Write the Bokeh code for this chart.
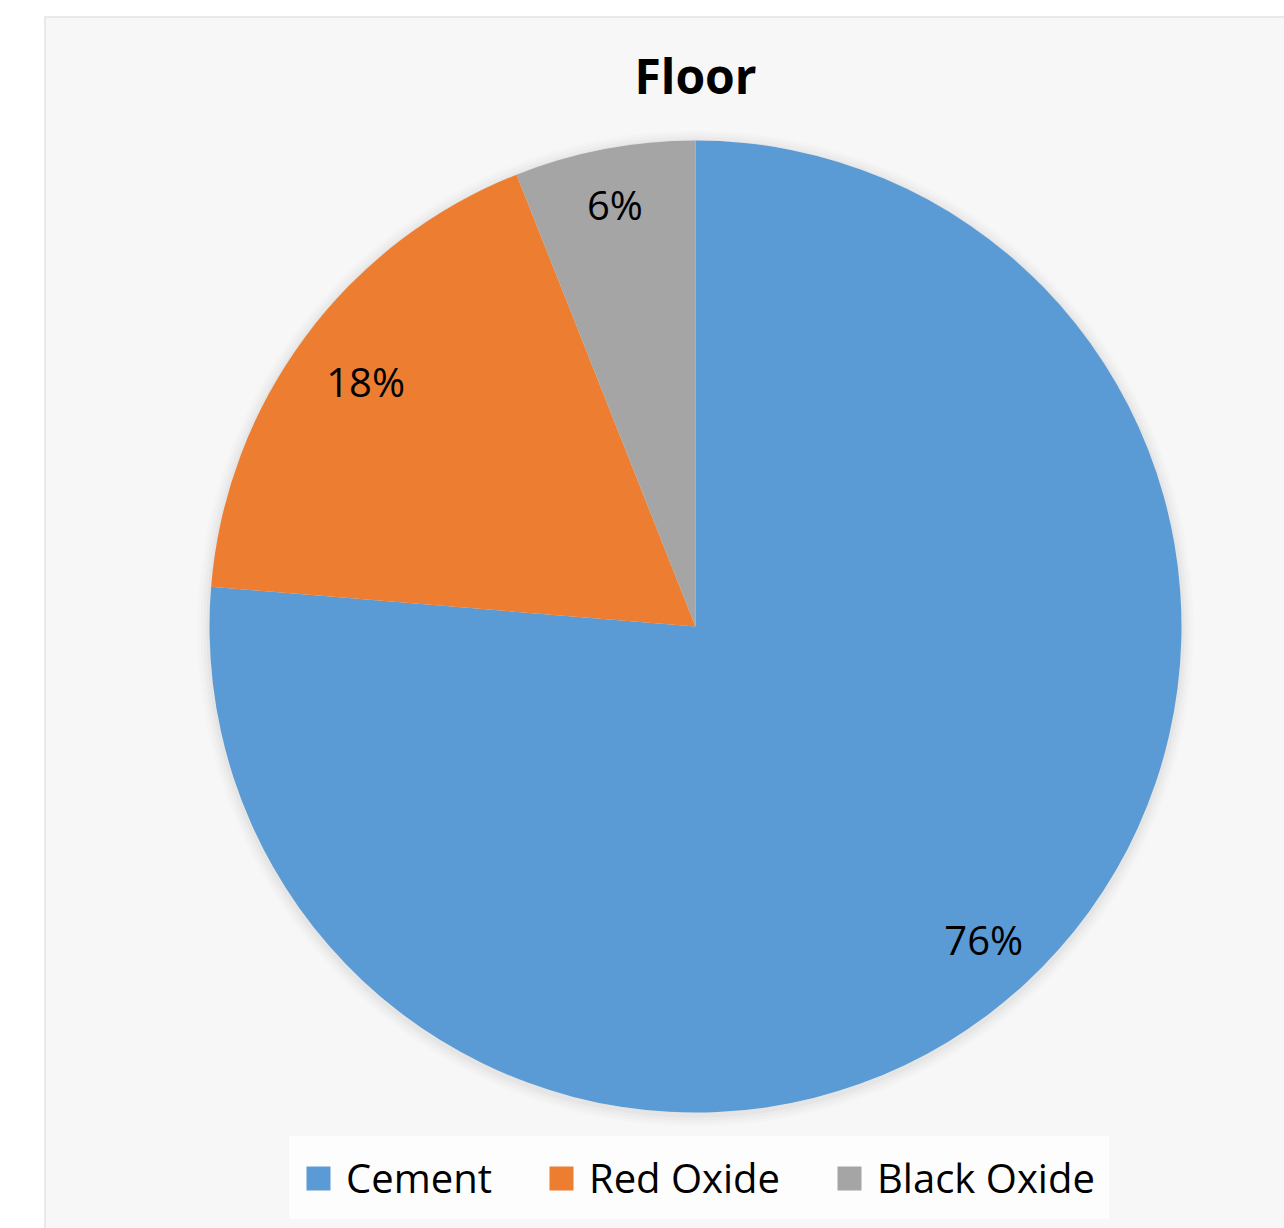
import math
from bokeh.plotting import figure
from bokeh.models import ColumnDataSource, Legend, LegendItem, Label, Span
from bokeh.core.properties import value
from bokeh.embed import file_html
from bokeh.resources import INLINE

# ---- data ----
categories = ["Cement", "Red Oxide", "Black Oxide"]
shares = [76.3, 17.7, 6.0]
colors = ["#5B9BD5", "#ED7D31", "#A5A5A5"]
title_text = "Floor"

# ---- geometry (layout) ----
W, H = 1284, 1228
left_border, top_border = 44, 16
FW, FH = W - left_border, H - top_border
cx, cy = 651, FH - 610
R = 486
label_radius = [0.875, 0.845, 0.885]

total = float(sum(shares))
starts, ends, lx, ly, labels = [], [], [], [], []
cum = 0.0
for s, f in zip(shares, label_radius):
    a0 = math.pi / 2 - 2 * math.pi * cum / total
    cum += s
    a1 = math.pi / 2 - 2 * math.pi * cum / total
    starts.append(a0)
    ends.append(a1)
    mid = (a0 + a1) / 2
    lx.append(cx + f * R * math.cos(mid))
    ly.append(cy + f * R * math.sin(mid))
    labels.append(f"{round(100 * s / total)}%")

src = ColumnDataSource(dict(cat=categories, start=starts, end=ends, color=colors,
                            lx=lx, ly=ly, lab=labels))

p = figure(width=W, height=H, x_range=(0, FW), y_range=(0, FH),
           output_backend="svg", toolbar_location=None,
           min_border_left=left_border, min_border_top=top_border,
           min_border_right=0, min_border_bottom=0)
p.border_fill_color = "white"
p.background_fill_color = "#f7f7f7"
p.outline_line_color = None
p.axis.visible = False
p.grid.visible = False

# frame edges only on the left and top (chart area runs off the page)
p.add_layout(Span(location=0, dimension="height", line_color="#d9d9d9", line_width=2))
p.add_layout(Span(location=FH, dimension="width", line_color="#d9d9d9", line_width=2))

# soft shadow
for k, a in [(12, 0.025), (9, 0.03), (6, 0.04), (3, 0.05)]:
    p.circle(x=[cx], y=[cy - 2], radius=R + k, fill_color="#7f7f7f",
             fill_alpha=a, line_alpha=0)

wr = p.wedge(x=cx, y=cy, radius=R, start_angle="start", end_angle="end",
             direction="clock", fill_color="color", line_alpha=0, source=src)

p.text(x="lx", y="ly", text="lab", source=src, text_font=value("Open Sans"),
       text_font_size="40px", text_color="black", text_align="center",
       text_baseline="middle")

p.add_layout(Label(x=cx, y=FH - 59, y_units="data", text=title_text,
                   text_font="Open Sans", text_font_style="bold",
                   text_font_size="48px", text_align="center",
                   text_baseline="middle", text_color="black"))

items = [LegendItem(label=c, renderers=[wr], index=i) for i, c in enumerate(categories)]
legend = Legend(items=items, orientation="horizontal", location=(245, 9),
                label_text_font="Open Sans", label_text_font_size="40px",
                label_text_color="black",
                glyph_width=30, glyph_height=30, label_standoff=13, spacing=54,
                padding=14, margin=0, background_fill_color="white",
                background_fill_alpha=0.75, border_line_alpha=0)
p.add_layout(legend, "center")

open("out.html", "w").write(file_html(p, INLINE))
